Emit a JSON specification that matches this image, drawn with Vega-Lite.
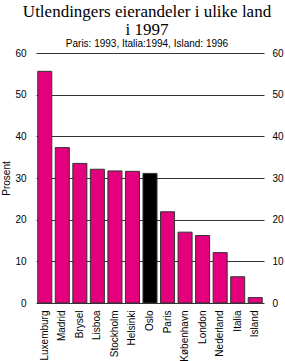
{
  "$schema": "https://vega.github.io/schema/vega-lite/v6.json",
  "width": 228,
  "height": 250,
  "autosize": "none",
  "padding": {"left": 36, "top": 53, "right": 21, "bottom": 58},
  "background": "white",
  "config": {"view": {"stroke": null}, "font": "Liberation Sans"},
  "title": {
    "text": ["Utlendingers eierandeler i ulike land", "i 1997"],
    "subtitle": "Paris: 1993,  Italia:1994, Island: 1996",
    "font": "Liberation Serif",
    "fontSize": 17,
    "fontWeight": "normal",
    "lineHeight": 18,
    "color": "black",
    "subtitleFont": "Liberation Sans",
    "subtitleFontSize": 10,
    "subtitleColor": "black",
    "subtitlePadding": 0,
    "anchor": "middle",
    "offset": -2,
    "dx": -3
  },
  "data": {
    "values": [
      {"land": "Luxemburg", "prosent": 55.6, "oslo": "nei"},
      {"land": "Madrid", "prosent": 37.3, "oslo": "nei"},
      {"land": "Brysel", "prosent": 33.5, "oslo": "nei"},
      {"land": "Lisboa", "prosent": 32.1, "oslo": "nei"},
      {"land": "Stockholm", "prosent": 31.7, "oslo": "nei"},
      {"land": "Helsinki", "prosent": 31.6, "oslo": "nei"},
      {"land": "Oslo", "prosent": 31.1, "oslo": "ja"},
      {"land": "Paris", "prosent": 21.9, "oslo": "nei"},
      {"land": "København", "prosent": 17.0, "oslo": "nei"},
      {"land": "London", "prosent": 16.2, "oslo": "nei"},
      {"land": "Nederland", "prosent": 12.1, "oslo": "nei"},
      {"land": "Italia", "prosent": 6.3, "oslo": "nei"},
      {"land": "Island", "prosent": 1.3, "oslo": "nei"}
    ]
  },
  "encoding": {
    "x": {
      "field": "land",
      "type": "nominal",
      "sort": null,
      "scale": {"paddingInner": 0.2, "paddingOuter": 0.1},
      "axis": {
        "title": null,
        "labelAngle": -90,
        "labelAlign": "right",
        "labelBaseline": "middle",
        "labelFontSize": 10,
        "labelColor": "black",
        "labelPadding": 7,
        "ticks": false,
        "domain": false
      }
    },
    "y": {
      "field": "prosent",
      "type": "quantitative",
      "scale": {"domain": [0, 60]}
    }
  },
  "layer": [
    {
      "mark": {"type": "bar", "stroke": "#333333", "strokeWidth": 1},
      "encoding": {
        "y": {
          "field": "prosent",
          "type": "quantitative",
          "scale": {"domain": [0, 60]},
          "axis": {
            "title": "Prosent",
            "titleFontSize": 10,
            "titleFontWeight": "normal",
            "titleColor": "black",
            "titlePadding": 3,
            "values": [0, 10, 20, 30, 40, 50, 60],
            "grid": true,
            "gridColor": "#333333",
            "gridWidth": 1,
            "gridOpacity": 1,
            "ticks": false,
            "domain": false,
            "labelFontSize": 10,
            "labelColor": "black",
            "labelPadding": 10
          }
        },
        "color": {
          "field": "oslo",
          "type": "nominal",
          "scale": {"domain": ["nei", "ja"], "range": ["#E4007C", "#000000"]},
          "legend": null
        }
      }
    },
    {
      "mark": {"type": "point", "opacity": 0},
      "encoding": {
        "y": {
          "field": "prosent",
          "type": "quantitative",
          "scale": {"domain": [0, 60]},
          "axis": {
            "orient": "right",
            "title": null,
            "values": [0, 10, 20, 30, 40, 50, 60],
            "grid": false,
            "ticks": false,
            "domain": false,
            "labelFontSize": 10,
            "labelColor": "black",
            "labelPadding": 8
          }
        }
      }
    }
  ],
  "resolve": {"axis": {"y": "independent"}}
}
